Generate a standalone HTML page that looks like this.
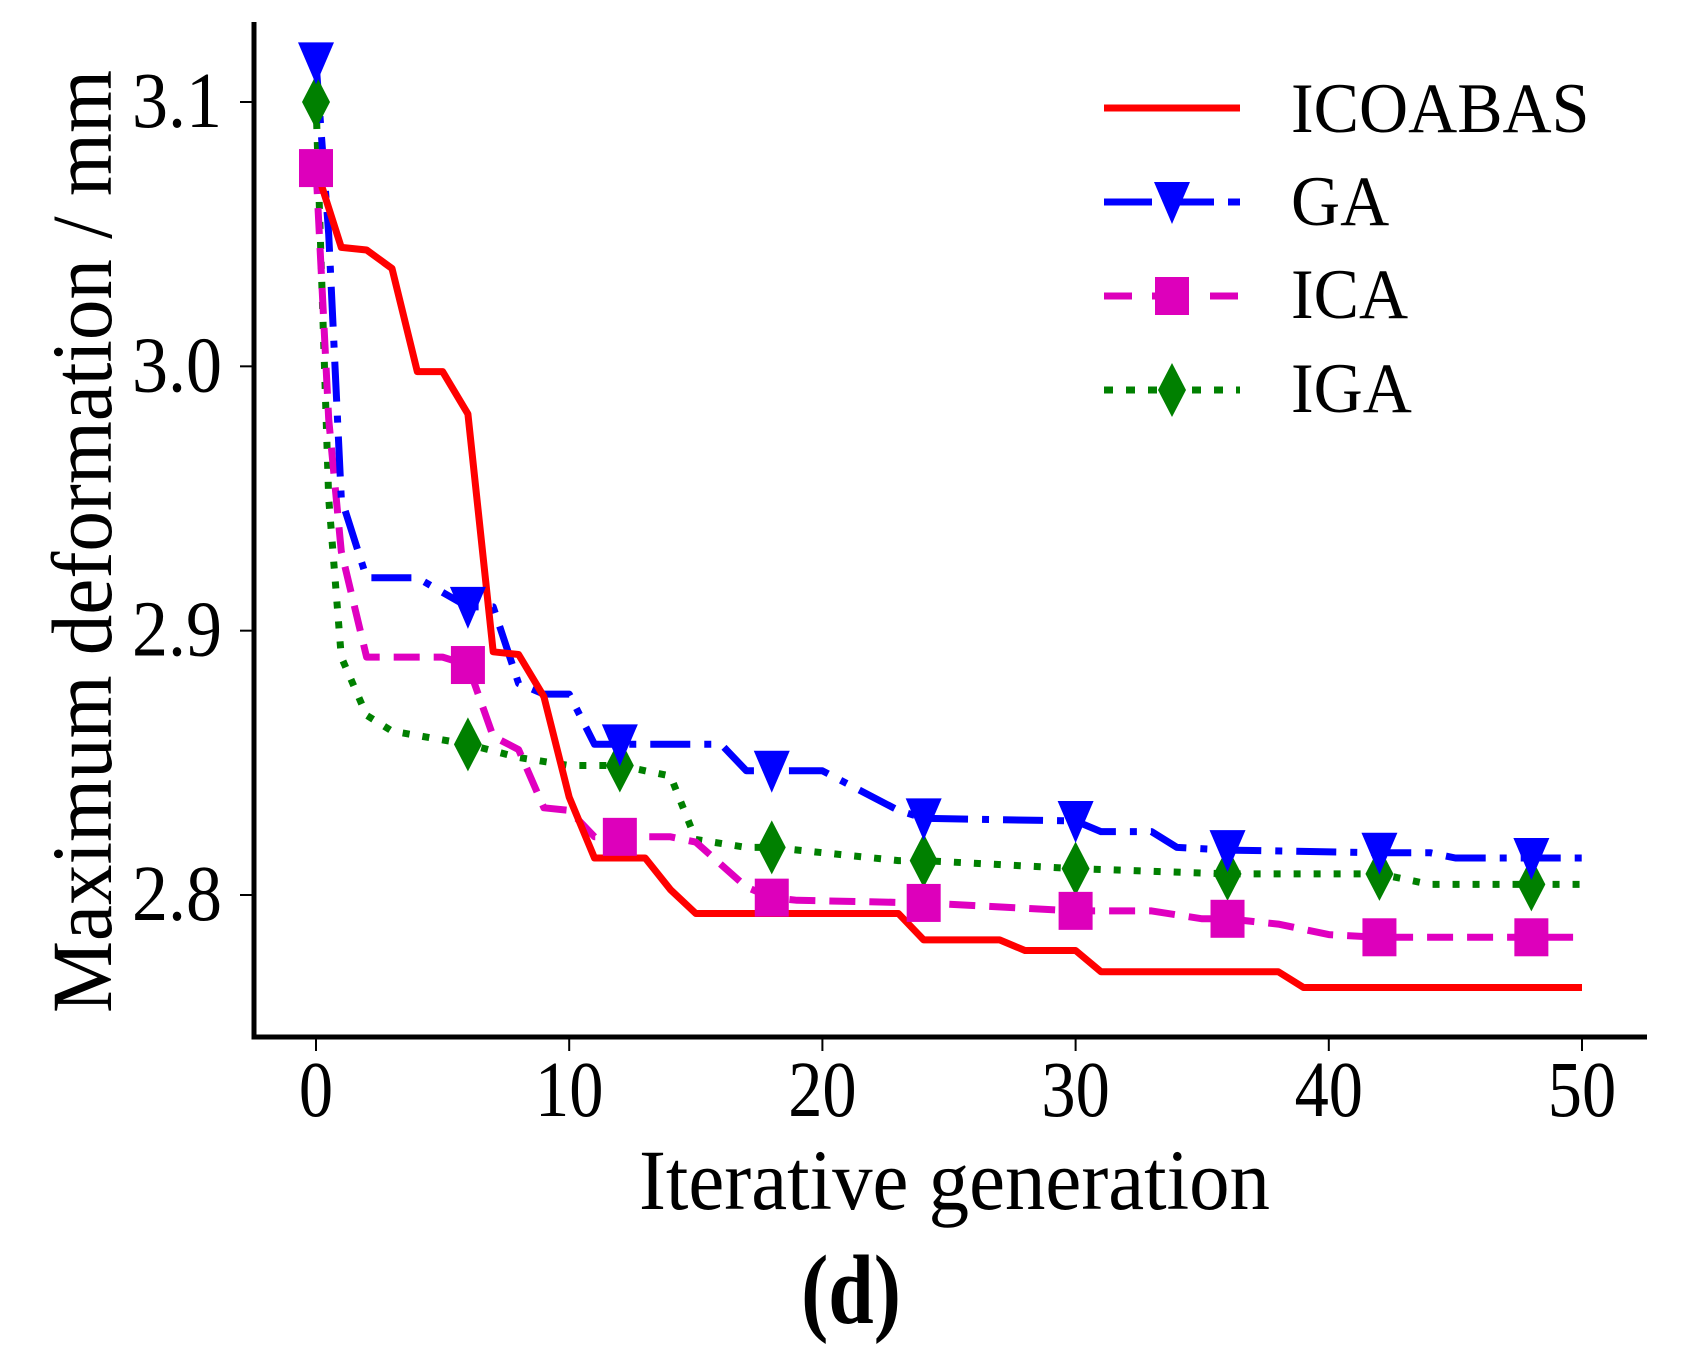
<!DOCTYPE html>
<html><head><meta charset="utf-8"><style>
html,body{margin:0;padding:0;background:#fff;}
svg{display:block;font-family:"Liberation Serif",serif;}
</style></head><body>
<svg id="chart" width="1684" height="1361" viewBox="0 0 1684 1361" xmlns="http://www.w3.org/2000/svg">
<g id="plot"></g>
</svg>
<script>
const xTicks=[0,10,20,30,40,50];
const yTicks=[2.8,2.9,3.0,3.1];
const yTickLabels=["2.8","2.9","3.0","3.1"];
const icoX=[0,1,2,3,4,5,6,7,8,9,10,11,13,14,15,23,24,27,28,30,31,38,39,50];
const icoY=[3.075,3.045,3.044,3.037,2.998,2.998,2.982,2.892,2.891,2.875,2.837,2.814,2.814,2.802,2.793,2.793,2.783,2.783,2.779,2.779,2.771,2.771,2.765,2.765];
const gaX=[0,0.5,1,2,4,6,7,8,9,10,11,16,17,20,23,24,30,31,33,34,36,42,44,45,50];
const gaY=[3.115,3.05,2.95,2.92,2.92,2.909,2.909,2.88,2.876,2.876,2.857,2.857,2.847,2.847,2.832,2.829,2.828,2.824,2.824,2.818,2.817,2.816,2.816,2.814,2.814];
const icaX=[0,0.5,1,2,5,6,7,8,9,10,11,14,15,17,18,19,24,30,33,35,36,38,40,42,50];
const icaY=[3.075,2.98,2.93,2.89,2.89,2.887,2.86,2.855,2.833,2.832,2.822,2.822,2.82,2.803,2.799,2.798,2.797,2.794,2.794,2.791,2.791,2.789,2.785,2.784,2.784];
const igaX=[0,0.5,1,2,3,6,8,10,12,14,15,17,18,23,24,30,36,42,44,50];
const igaY=[3.1,2.95,2.89,2.868,2.862,2.857,2.852,2.849,2.849,2.845,2.821,2.818,2.818,2.813,2.813,2.81,2.808,2.808,2.804,2.804];
const markerX=[0,6,12,18,24,30,36,42,48];

const NS="http://www.w3.org/2000/svg";
const g=document.getElementById('plot');
const X=v=>316+(v-0)*(1582-316)/50;
const Y=v=>895-(v-2.8)*(895-102)/0.3;
function el(t,a,p){const e=document.createElementNS(NS,t);for(const k in a)e.setAttribute(k,a[k]);(p||g).appendChild(e);return e;}
function interp(xs,ys,x){for(let i=0;i<xs.length-1;i++){if(x>=xs[i]&&x<=xs[i+1]){const t=(x-xs[i])/((xs[i+1]-xs[i])||1);return ys[i]+t*(ys[i+1]-ys[i]);}}return ys[ys.length-1];}

const ax=el('path',{d:'M254 22 V1037 H1647',fill:'none',stroke:'#000','stroke-width':5});


xTicks.forEach(t=>{
  const tk=el('line',{x1:X(t),x2:X(t),y1:1037,y2:1051,stroke:'#000','stroke-width':2});
  
  
  const tx=el('text',{x:X(t),y:1116,'text-anchor':'middle','font-size':72,fill:'#000',transform:`translate(${X(t)},1116) scale(0.95,1.1) translate(${-X(t)},-1116)`});
  tx.textContent=String(t);
  
  
});
yTicks.forEach((t,i)=>{
  const tk=el('line',{x1:240,x2:254,y1:Y(t),y2:Y(t),stroke:'#000','stroke-width':2});
  
  
  const tx=el('text',{x:222,y:Y(t)+25,'text-anchor':'end','font-size':72,fill:'#000',transform:`translate(222,${Y(t)+25}) scale(1,1.1) translate(-222,${-(Y(t)+25)})`});
  tx.textContent=yTickLabels[i];
  
  
});
const xt=el('text',{x:639,y:1209,'font-size':86,textLength:631,lengthAdjust:'spacingAndGlyphs',fill:'#000'});
xt.textContent='Iterative generation';


const yt=el('text',{x:0,y:0,'font-size':86,textLength:943,lengthAdjust:'spacingAndGlyphs',fill:'#000',transform:'translate(111,1013) rotate(-90)'});
yt.textContent='Maximum deformation / mm';


const cap=el('text',{x:851,y:1323,'text-anchor':'middle','font-size':86,'font-weight':'bold',fill:'#000',transform:'translate(851,1323) scale(0.95,1.15) translate(-851,-1323)'});
cap.textContent='(d)';



function marker(type,cx,cy,color){
  let m;
  if(type==='tri') m=el('polygon',{points:`${cx-18},${cy-20} ${cx+18},${cy-20} ${cx},${cy+22}`,fill:color});
  else if(type==='sq') m=el('rect',{x:cx-17,y:cy-19,width:34,height:38,fill:color});
  else m=el('polygon',{points:`${cx},${cy-27} ${cx+14},${cy} ${cx},${cy+27} ${cx-14},${cy}`,fill:color});
  return m;
}
function series(name,xs,ys,color,dash,mk){
  const d=xs.map((x,i)=>(i?'L':'M')+X(x).toFixed(1)+' '+Y(ys[i]).toFixed(1)).join(' ');
  const p=el('path',{d:d,fill:'none',stroke:color,'stroke-width':7,'stroke-dasharray':dash,'stroke-linejoin':'round'});
  
  
  if(mk){markerX.forEach(mx=>{
    const m=marker(mk,X(mx),Y(interp(xs,ys,mx)),color);
    
    
  });}
}
series('iga',igaX,igaY,'#008000','7 13',null);
series('ica',icaX,icaY,'#e000c0','26 14',null);
series('ga',gaX,gaY,'#0000ff','40 14 7 14',null);
series('icoabas',icoX,icoY,'#ff0000','',null);
series('iga',igaX,igaY,'#008000','none','dia');
series('ica',icaX,icaY,'#dd00bb','none','sq');
series('ga',gaX,gaY,'#0000ff','none','tri');
[...g.querySelectorAll('path[stroke-dasharray="none"]')].forEach(p=>p.remove());

const leg=el('g',{});


const items=[['ICOABAS','#ff0000','',null,108,132],['GA','#0000ff','48 14',"tri",202,225],['ICA','#dd00bb','28 20 28 30',"sq",296,318],['IGA','#008000','9 13',"dia",390,412]];
items.forEach(it=>{
  const ln=el('line',{x1:1104,x2:1240,y1:it[4],y2:it[4],stroke:it[1],'stroke-width':7,'stroke-dasharray':it[2]},leg);
  
  
  if(it[3]){const m=marker(it[3],1172,it[4],it[1]);leg.appendChild(m);
    
    }
  const t=el('text',{x:1291,y:it[5],'font-size':68,fill:'#000',transform:`translate(1291,${it[5]}) scale(1,1.05) translate(-1291,${-it[5]})`},leg);
  t.textContent=it[0];
  
  
});
</script>
</body></html>
